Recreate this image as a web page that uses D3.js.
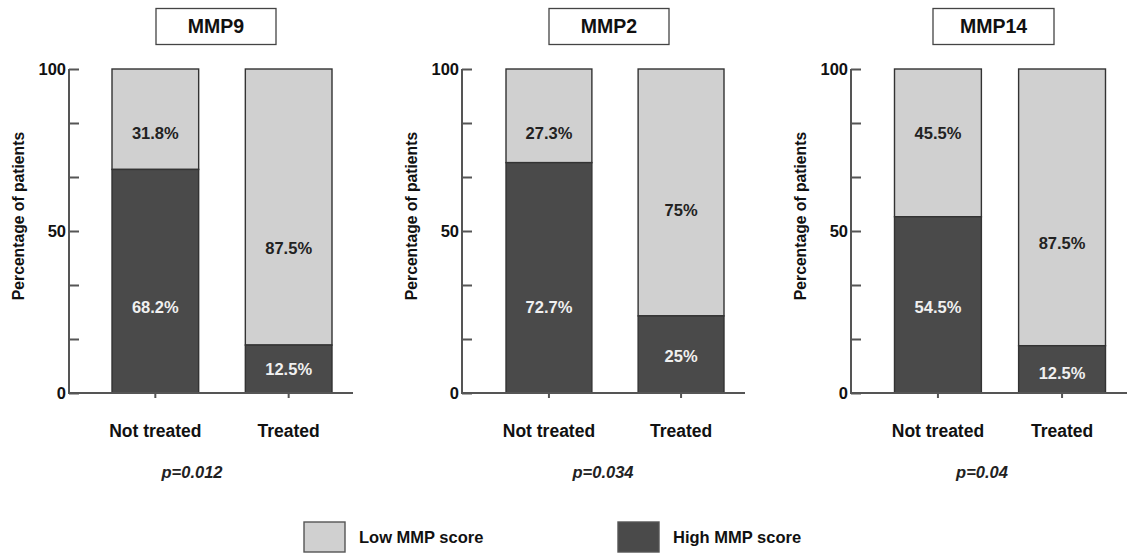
<!DOCTYPE html>
<html><head><meta charset="utf-8">
<script src="https://cdn.jsdelivr.net/npm/d3@7"></script>
<style>
body{margin:0;background:#fff;}
text{font-family:"Liberation Sans",Arial,sans-serif;font-weight:bold;}
</style></head>
<body><svg id="c" width="1127" height="553"></svg>
<script>
// ---- data ----
const panels = ["MMP9", "MMP2", "MMP14"];
const categories = ["Not treated", "Treated"];
// height of the dark (High MMP score) segment, as drawn (percent)
const highValues = [[69.0, 14.8], [71.1, 23.8], [54.4, 14.6]];
// printed labels
const highLabels = [["68.2%", "12.5%"], ["72.7%", "25%"], ["54.5%", "12.5%"]];
const lowLabels = [["31.8%", "87.5%"], ["27.3%", "75%"], ["45.5%", "87.5%"]];
const pValues = ["p=0.012", "p=0.034", "p=0.04"];
const yTickLabels = [0, 50, 100];
const legendItems = ["Low MMP score", "High MMP score"];

// ---- layout ----
const LIGHT = "#d0d0d0", DARK = "#4a4a4a";
const layout = [
  {axisX: 69, axisEnd: 353, bars: [112, 332], pad: 0.35, title: [156, 276], pX: 192,
   lowAt: [80.3, 44.6], highAt: [26.5, 7.4]},
  {axisX: 462, axisEnd: 745, bars: [506, 724], pad: 0.35, title: [549, 669], pX: 603,
   lowAt: [80.3, 56.5], highAt: [26.5, 11.4]},
  {axisX: 851, axisEnd: 1127, bars: [894.5, 1105.5], pad: 0.3, title: [933, 1054], pX: 982,
   lowAt: [80.3, 46.3], highAt: [26.5, 6.2]}
];
const svg = d3.select("#c");
const y = d3.scaleLinear().domain([0, 100]).range([393, 69]);

panels.forEach((name, i) => {
  const L = layout[i];
  const g = svg.append("g");
  const x = d3.scaleBand().domain(categories).range(L.bars).paddingInner(L.pad).paddingOuter(0);

  // title box
  g.append("rect").attr("x", L.title[0]).attr("y", 8.5).attr("width", L.title[1] - L.title[0]).attr("height", 36)
    .attr("fill", "#fff").attr("stroke", "#444").attr("stroke-width", 1.3);
  g.append("text").attr("x", (L.title[0] + L.title[1]) / 2).attr("y", 33)
    .attr("text-anchor", "middle").attr("font-size", 19.5).attr("fill", "#111").text(name);

  // bars
  categories.forEach((c, j) => {
    const h = highValues[i][j];
    g.append("rect").attr("x", x(c)).attr("width", x.bandwidth())
      .attr("y", y(100)).attr("height", y(h) - y(100))
      .attr("fill", LIGHT).attr("stroke", "#333").attr("stroke-width", 1.4);
    g.append("rect").attr("x", x(c)).attr("width", x.bandwidth())
      .attr("y", y(h)).attr("height", y(0) - y(h))
      .attr("fill", DARK).attr("stroke", "#333").attr("stroke-width", 1.4);
    g.append("text").attr("x", x(c) + x.bandwidth() / 2).attr("y", y(L.lowAt[j])).attr("dy", "0.36em")
      .attr("text-anchor", "middle").attr("font-size", 16.5).attr("fill", "#222").text(lowLabels[i][j]);
    g.append("text").attr("x", x(c) + x.bandwidth() / 2).attr("y", y(L.highAt[j])).attr("dy", "0.36em")
      .attr("text-anchor", "middle").attr("font-size", 16.5).attr("fill", "#f0f0f0").text(highLabels[i][j]);
  });

  // y axis
  const yAxis = d3.axisRight(y).tickValues(d3.range(0, 100.01, 100 / 6)).tickSize(10).tickFormat("");
  const ya = g.append("g").attr("transform", `translate(${L.axisX},0)`).call(yAxis);
  ya.select(".domain").attr("stroke", "#555").attr("stroke-width", 2).attr("d", `M0,${y(0)}V${y(100)}`);
  ya.selectAll(".tick line").attr("stroke", "#555").attr("stroke-width", 2);
  g.selectAll(".ylab").data(yTickLabels).join("text")
    .attr("x", L.axisX - 3).attr("y", d => y(d)).attr("dy", "0.36em")
    .attr("text-anchor", "end").attr("font-size", 16.5).attr("fill", "#111").text(d => d);

  // x axis
  const xAxis = d3.axisBottom(x).tickSize(5).tickFormat("");
  const xa = g.append("g").attr("transform", `translate(0,${y(0)})`).call(xAxis);
  xa.select(".domain").attr("stroke", "#555").attr("stroke-width", 2).attr("d", `M${L.axisX - 1},0H${L.axisEnd}`);
  xa.selectAll(".tick line").attr("stroke", "#555").attr("stroke-width", 2);
  categories.forEach(c => {
    g.append("text").attr("x", x(c) + x.bandwidth() / 2).attr("y", 437)
      .attr("text-anchor", "middle").attr("font-size", 17.5).attr("fill", "#111").text(c);
  });

  // y label
  g.append("text").attr("transform", `translate(${L.axisX - 45},216) rotate(-90)`)
    .attr("text-anchor", "middle").attr("font-size", 15.7).attr("fill", "#111").text("Percentage of patients");

  // p value
  g.append("text").attr("x", L.pX).attr("y", 478).attr("text-anchor", "middle")
    .attr("font-size", 16.5).attr("font-style", "italic").attr("fill", "#222").text(pValues[i]);
});

// legend
const legX = [304, 618];
legendItems.forEach((t, k) => {
  svg.append("rect").attr("x", legX[k]).attr("y", 522).attr("width", 41).attr("height", 30)
    .attr("fill", k === 0 ? LIGHT : DARK).attr("stroke", "#555").attr("stroke-width", 1.4);
  svg.append("text").attr("x", legX[k] + 55).attr("y", 543).attr("font-size", 16.5).attr("fill", "#111").text(t);
});
</script></body></html>
